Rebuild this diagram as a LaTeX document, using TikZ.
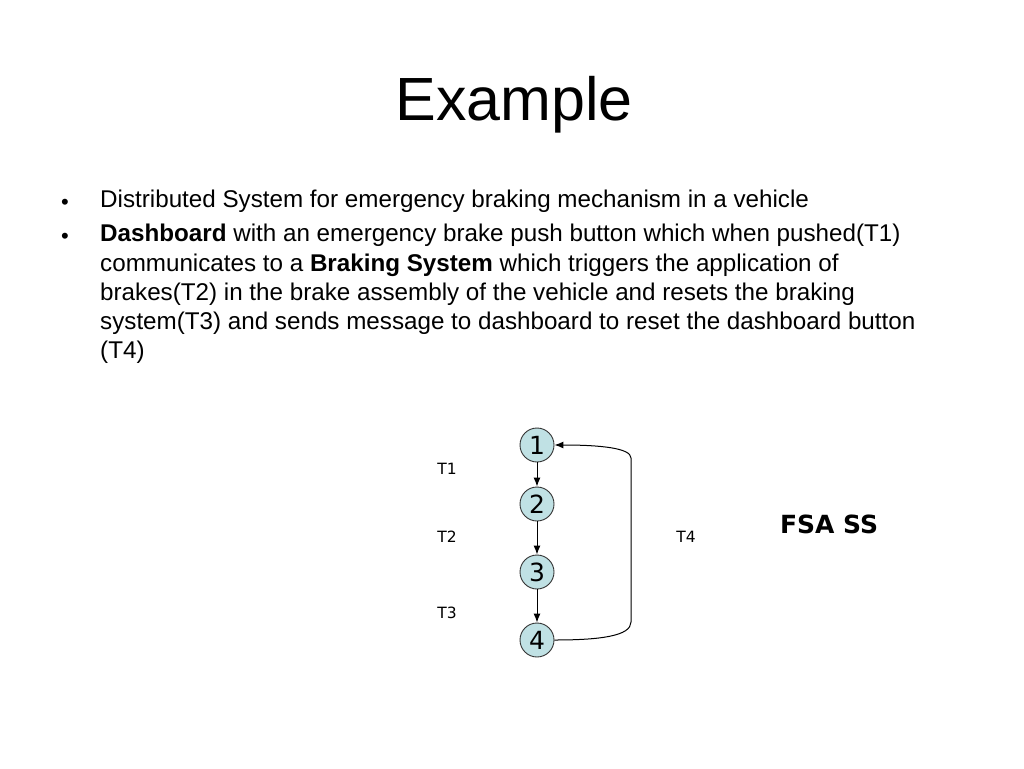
\documentclass[tikz,border=0pt]{standalone}
\usepackage{fontspec}
\setmainfont{Liberation Sans}
\newfontfamily\verd{DejaVu Sans}
\usetikzlibrary{arrows.meta}
\definecolor{statefill}{RGB}{192,225,228}
\tikzset{
  state/.style={circle, draw=black!80, line width=0.9pt, fill=statefill, minimum size=34pt, inner sep=0pt, font=\verd\fontsize{25}{25}\selectfont},
  tlabel/.style={font=\verd\fontsize{15.5}{15.5}\selectfont, inner sep=0pt},
  bodytext/.style={anchor=base west, inner sep=0pt, font=\fontsize{24.2}{29}\selectfont},
  bullet/.style={anchor=base, inner sep=0pt, font=\fontsize{22}{22}\selectfont},
  edge/.style={line width=1pt, -{Latex[length=9pt,width=7pt]}}
}
\begin{document}
\begin{tikzpicture}[x=1pt,y=-1pt]
\useasboundingbox (0,0) rectangle (1024,768);
\node[inner sep=0pt, font=\fontsize{61}{61}\selectfont, anchor=base] (title) at (514,120) {Example};
\node[bullet] (b1) at (65,209) {•};
\node[bodytext] (l1) at (100,207) {Distributed System for emergency braking mechanism in a vehicle};
\node[bullet] (b2) at (65,243) {•};
\node[bodytext] (l2) at (100,241) {\textbf{Dashboard} with an emergency brake push button which when pushed(T1)};
\node[bodytext] (l3) at (100,271) {communicates to a \textbf{Braking System} which triggers the application of};
\node[bodytext] (l4) at (100,300) {brakes(T2) in the brake assembly of the vehicle and resets the braking};
\node[bodytext] (l5) at (100,329) {system(T3) and sends message to dashboard to reset the dashboard button};
\node[bodytext] (l6) at (100,358) {(T4)};

\node[state] (s1) at (537,445) {1};
\node[state] (s2) at (537,504) {2};
\node[state] (s3) at (537,572) {3};
\node[state] (s4) at (537,640) {4};
\draw[edge] (s1) -- (s2);
\draw[edge] (s2) -- (s3);
\draw[edge] (s3) -- (s4);
\coordinate (rb) at (631,622);
\coordinate (rt) at (631,458);
\draw[edge] (s4.east) .. controls (600,640) and (631,636) .. (rb) -- (rt) .. controls (631,448) and (600,445) .. (s1.east);

\node[tlabel] (t1) at (447,469) {T1};
\node[tlabel] (t2) at (447,537) {T2};
\node[tlabel] (t3) at (447,613) {T3};
\node[tlabel] (t4) at (686,537) {T4};
\node[inner sep=0pt, font=\verd\bfseries\fontsize{25}{25}\selectfont] (fsa) at (829,524) {FSA SS};
\end{tikzpicture}
\end{document}
